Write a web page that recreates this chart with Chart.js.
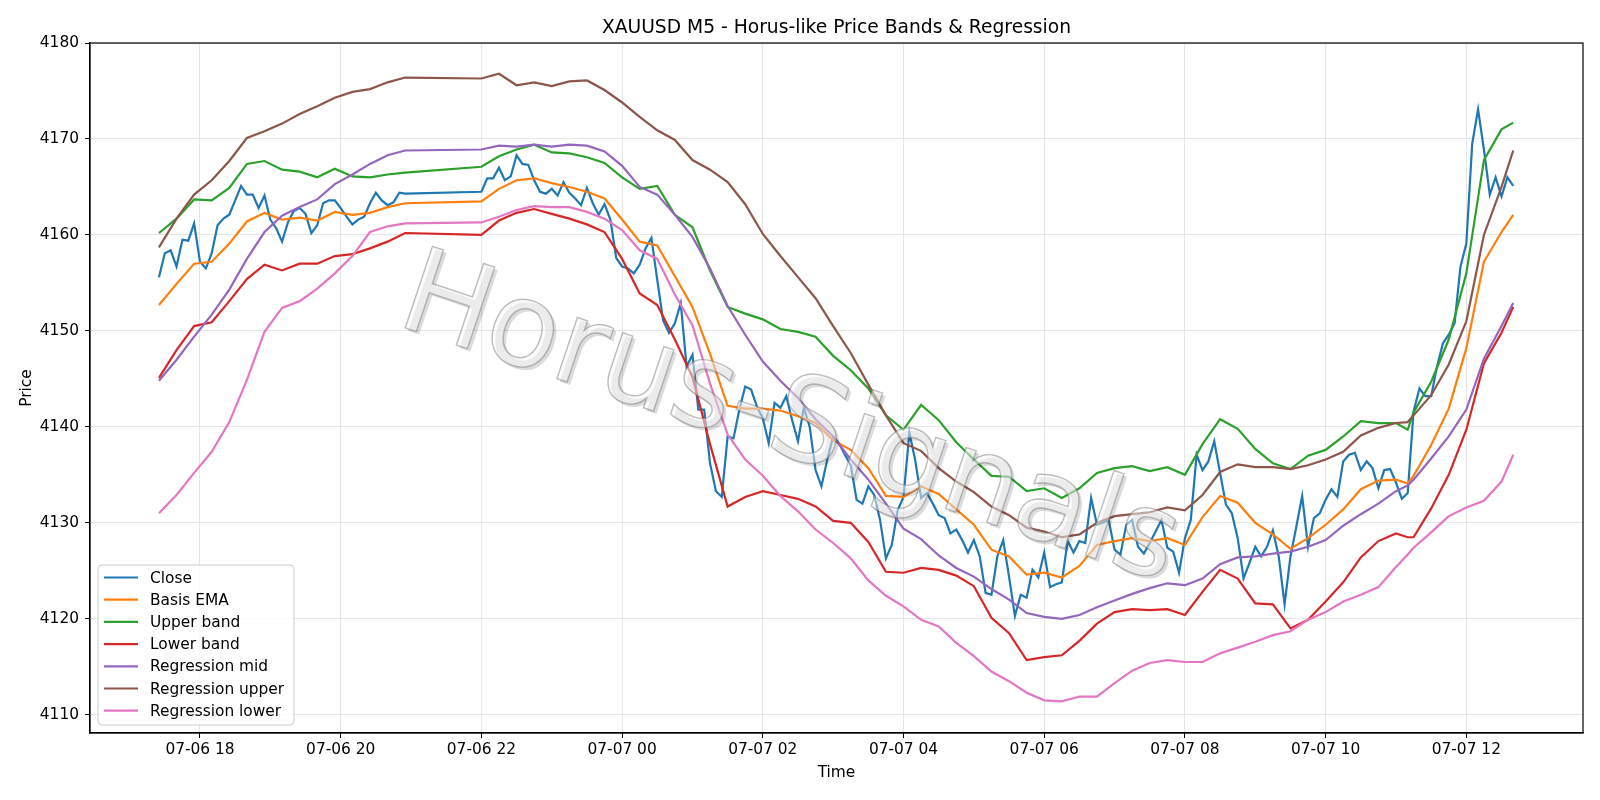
<!DOCTYPE html>
<html>
<head>
<meta charset="utf-8">
<title>XAUUSD M5</title>
<script src="https://cdn.jsdelivr.net/npm/chart.js@4.4.1/dist/chart.umd.min.js"></script>
<style>
html, body { margin: 0; padding: 0; background: #fff; }
#wrap { width: 1600px; height: 800px; position: relative; }
</style>
</head>
<body>
<div id="wrap"><canvas id="chart"></canvas></div>
<script>
const chartTitle = 'XAUUSD M5 - Horus-like Price Bands & Regression';
const watermark = 'Horus-Signals';
const xTitle = 'Time';
const yTitle = 'Price';

const tickLabels = ['07-06 18', '07-06 20', '07-06 22', '07-07 00', '07-07 02',
    '07-07 04', '07-07 06', '07-07 08', '07-07 10', '07-07 12'];
const yTicks = [4110, 4120, 4130, 4140, 4150, 4160, 4170, 4180];

// close, 5 minute bars, before the daily break
const closeStartA = '07-06 17:25';
const closeA = [
    4155.6, 4158.1, 4158.4, 4156.7, 4159.5, 4159.4, 4161.2, 4157.2, 4156.5, 4158.1, 4161.0, 4161.7,
    4162.1, 4163.6, 4165.1, 4164.2, 4164.2, 4162.8, 4164.1, 4161.6, 4160.7, 4159.3, 4161.3, 4162.5,
    4162.8, 4162.2, 4160.2, 4161.0, 4163.3, 4163.6, 4163.6, 4162.8, 4161.9, 4161.1, 4161.6, 4161.9,
    4163.3, 4164.4, 4163.6, 4163.1, 4163.4, 4164.4, 4164.3
];
// close, 5 minute bars, after the break
const closeStartB = '07-06 22:00';
const closeB = [
    4164.5, 4165.9, 4165.9, 4167.0, 4165.7, 4166.1, 4168.3, 4167.4, 4167.3, 4165.7, 4164.5, 4164.3,
    4164.8, 4164.1, 4165.5, 4164.4, 4163.8, 4163.1, 4164.9, 4163.3, 4162.1, 4163.2, 4161.6, 4157.6,
    4156.7, 4156.5, 4156.0, 4156.9, 4158.6, 4159.7, 4155.3, 4151.1, 4149.8, 4150.8, 4152.9, 4146.3,
    4147.5, 4141.8, 4141.8, 4136.2, 4133.3, 4132.7, 4139.0, 4138.8, 4141.8, 4144.2, 4143.9, 4142.1,
    4140.9, 4138.3, 4142.5, 4142.0, 4143.2, 4140.7, 4138.5, 4142.0, 4140.0, 4135.5, 4133.8, 4136.6,
    4139.0, 4138.3, 4137.1, 4136.0, 4132.4, 4132.0, 4133.8, 4132.9, 4130.3, 4126.3, 4127.7, 4131.3,
    4132.7, 4139.4, 4136.5, 4132.6, 4133.1, 4132.0, 4130.8, 4130.5, 4128.9, 4129.3, 4128.2, 4126.9,
    4128.2, 4126.5, 4122.7, 4122.5, 4126.5, 4128.2, 4124.4, 4120.3, 4122.5, 4122.2, 4125.1, 4124.3,
    4126.9, 4123.3, 4123.6, 4123.8, 4128.1, 4126.9, 4128.1, 4127.9, 4132.6, 4129.8, 4130.0, 4130.3,
    4127.2, 4126.7, 4129.8, 4130.3, 4127.5, 4126.8, 4127.9, 4129.1, 4130.3, 4127.4, 4127.0, 4124.8,
    4128.4, 4130.3, 4137.1, 4135.5, 4136.4, 4138.5, 4135.2, 4131.9, 4131.0, 4128.4, 4124.2, 4125.8,
    4127.5, 4126.5, 4127.5, 4129.2, 4126.5, 4121.5, 4126.5, 4129.6, 4132.8, 4127.5, 4130.5, 4131.0,
    4132.4, 4133.5, 4132.7, 4136.4, 4137.1, 4137.3, 4135.5, 4136.4, 4135.7, 4133.6, 4135.5, 4135.6,
    4134.2, 4132.5, 4133.1, 4141.6, 4144.0, 4143.2, 4143.2, 4146.3, 4148.7, 4149.6, 4150.8, 4156.7,
    4159.1, 4169.5, 4173.1, 4168.9, 4164.2, 4166.0, 4164.0, 4166.0, 4165.1
];

// times at which the smoother lines were read
const bandTimes = [
    '07-06 17:25', '07-06 17:40', '07-06 17:55', '07-06 18:10', '07-06 18:25', '07-06 18:40',
    '07-06 18:55', '07-06 19:10', '07-06 19:25', '07-06 19:40', '07-06 19:55', '07-06 20:10',
    '07-06 20:25', '07-06 20:40', '07-06 20:55',
    '07-06 22:00', '07-06 22:15', '07-06 22:30', '07-06 22:45', '07-06 23:00', '07-06 23:15',
    '07-06 23:30', '07-06 23:45',
    '07-07 00:00', '07-07 00:15', '07-07 00:30', '07-07 00:45', '07-07 01:00', '07-07 01:15',
    '07-07 01:30', '07-07 01:45', '07-07 02:00', '07-07 02:15', '07-07 02:30', '07-07 02:45',
    '07-07 03:00', '07-07 03:15', '07-07 03:30', '07-07 03:45', '07-07 04:00', '07-07 04:15',
    '07-07 04:30', '07-07 04:45', '07-07 05:00', '07-07 05:15', '07-07 05:30', '07-07 05:45',
    '07-07 06:00', '07-07 06:15', '07-07 06:30', '07-07 06:45', '07-07 07:00', '07-07 07:15',
    '07-07 07:30', '07-07 07:45', '07-07 08:00', '07-07 08:15', '07-07 08:30', '07-07 08:45',
    '07-07 09:00', '07-07 09:15', '07-07 09:30', '07-07 09:45', '07-07 10:00', '07-07 10:15',
    '07-07 10:30', '07-07 10:45', '07-07 11:00',
    '07-07 11:10', '07-07 11:15', '07-07 11:30', '07-07 11:45', '07-07 12:00', '07-07 12:15',
    '07-07 12:30', '07-07 12:40'
];

const basisEma = [
    4152.7, 4154.9, 4157.0, 4157.2, 4159.1, 4161.4, 4162.3, 4161.6, 4161.8, 4161.5, 4162.4, 4162.1,
    4162.3, 4162.9, 4163.3,
    4163.5, 4164.8, 4165.7, 4165.9, 4165.4, 4165.0, 4164.5, 4163.8,
    4161.6, 4159.3, 4158.9, 4155.7, 4152.5, 4147.6, 4142.2, 4141.9, 4141.9, 4141.7, 4141.1, 4140.4,
    4138.6, 4137.6, 4135.7, 4132.8, 4132.7, 4133.8, 4133.0, 4131.4, 4129.8, 4127.2, 4126.5, 4124.6,
    4124.8, 4124.3, 4125.5, 4127.7, 4128.1, 4128.4, 4128.1, 4128.4, 4127.7, 4130.6, 4132.8, 4132.1,
    4130.0, 4128.8, 4127.3, 4128.4, 4129.8, 4131.4, 4133.5, 4134.4, 4134.5,
    4134.1, 4134.9, 4138.1, 4141.9, 4148.2, 4157.2, 4160.3, 4162.1
];
const upperBand = [
    4160.2, 4161.7, 4163.7, 4163.6, 4164.9, 4167.4, 4167.7, 4166.8, 4166.6, 4166.0, 4166.9, 4166.1,
    4166.0, 4166.3, 4166.5,
    4167.1, 4168.2, 4168.9, 4169.4, 4168.6, 4168.5, 4168.1, 4167.5,
    4166.0, 4164.8, 4165.1, 4162.1, 4160.8, 4156.3, 4152.5, 4151.8, 4151.2, 4150.2, 4149.9, 4149.4,
    4147.4, 4145.9, 4144.0, 4141.2, 4139.7, 4142.3, 4140.7, 4138.4, 4136.6, 4134.9, 4134.8, 4133.3,
    4133.6, 4132.6, 4133.6, 4135.2, 4135.7, 4135.9, 4135.4, 4135.8, 4135.0, 4138.2, 4140.8, 4139.8,
    4137.7, 4136.2, 4135.6, 4137.0, 4137.6, 4139.0, 4140.6, 4140.4, 4140.4,
    4139.7, 4141.5, 4144.7, 4149.1, 4156.0, 4167.8, 4171.0, 4171.7
];
const lowerBand = [
    4145.1, 4148.0, 4150.5, 4150.9, 4153.1, 4155.4, 4156.9, 4156.3, 4157.0, 4157.0, 4157.8, 4158.0,
    4158.6, 4159.3, 4160.2,
    4160.0, 4161.5, 4162.3, 4162.7, 4162.2, 4161.7, 4161.1, 4160.3,
    4157.5, 4153.9, 4152.7, 4149.1, 4145.2, 4138.2, 4131.7, 4132.7, 4133.3, 4132.9, 4132.5, 4131.7,
    4130.2, 4130.0, 4128.0, 4124.9, 4124.8, 4125.3, 4125.1, 4124.5, 4123.4, 4120.1, 4118.5, 4115.7,
    4116.0, 4116.2, 4117.7, 4119.5, 4120.7, 4121.0, 4120.9, 4121.0, 4120.4, 4122.8, 4125.1, 4124.2,
    4121.6, 4121.5, 4119.0, 4119.9, 4121.8, 4123.8, 4126.4, 4128.1, 4128.9,
    4128.5, 4128.5, 4131.5, 4135.0, 4139.7, 4146.6, 4149.8, 4152.5
];
const regMid = [
    4144.8, 4147.0, 4149.4, 4151.7, 4154.3, 4157.5, 4160.3, 4162.0, 4162.9, 4163.7, 4165.3, 4166.3,
    4167.4, 4168.3, 4168.8,
    4168.9, 4169.3, 4169.2, 4169.4, 4169.2, 4169.4, 4169.3, 4168.7,
    4167.2, 4165.0, 4164.2, 4162.1, 4159.8, 4156.5, 4152.6, 4149.6, 4146.8, 4144.8, 4143.0, 4140.8,
    4139.0, 4136.6, 4134.5, 4132.0, 4129.4, 4128.3, 4126.6, 4125.3, 4124.4, 4123.1, 4122.0, 4120.6,
    4120.2, 4120.0, 4120.4, 4121.2, 4121.9, 4122.6, 4123.2, 4123.7, 4123.5, 4124.2, 4125.7, 4126.4,
    4126.5, 4126.8, 4127.0, 4127.5, 4128.2, 4129.7, 4130.9, 4132.0, 4133.3,
    4133.9, 4134.5, 4136.7, 4139.0, 4141.8, 4147.1, 4150.5, 4152.9
];
const regUpper = [
    4158.7, 4161.7, 4164.2, 4165.7, 4167.7, 4170.1, 4170.8, 4171.6, 4172.6, 4173.4, 4174.3, 4174.9,
    4175.2, 4175.9, 4176.4,
    4176.3, 4176.8, 4175.6, 4175.9, 4175.5, 4176.0, 4176.1, 4175.1,
    4173.8, 4172.3, 4170.9, 4169.9, 4167.8, 4166.8, 4165.5, 4163.2, 4160.1, 4157.8, 4155.6, 4153.4,
    4150.5, 4147.7, 4144.4, 4141.2, 4138.3, 4137.5, 4135.7, 4134.3, 4133.2, 4131.7, 4130.8, 4129.5,
    4129.1, 4128.5, 4128.8, 4130.0, 4130.7, 4130.9, 4131.1, 4131.6, 4131.3, 4132.9, 4135.3, 4136.1,
    4135.8, 4135.8, 4135.6, 4136.0, 4136.6, 4137.4, 4139.1, 4139.9, 4140.4,
    4140.5, 4141.2, 4143.3, 4146.5, 4151.0, 4160.0, 4165.0, 4168.8
];
const regLower = [
    4131.0, 4132.9, 4135.2, 4137.4, 4140.5, 4144.9, 4149.9, 4152.4, 4153.1, 4154.4, 4156.0, 4157.8,
    4160.3, 4160.9, 4161.2,
    4161.3, 4161.9, 4162.6, 4163.0, 4162.9, 4162.9, 4162.4, 4161.7,
    4160.5, 4158.4, 4157.5, 4153.8, 4150.6, 4144.5, 4139.2, 4136.6, 4134.9, 4132.8, 4131.2, 4129.3,
    4127.9, 4126.3, 4124.0, 4122.4, 4121.3, 4119.9, 4119.2, 4117.5, 4116.1, 4114.5, 4113.5, 4112.3,
    4111.5, 4111.4, 4111.9, 4111.9, 4113.3, 4114.6, 4115.4, 4115.7, 4115.5, 4115.5, 4116.4, 4117.0,
    4117.6, 4118.3, 4118.7, 4119.9, 4120.7, 4121.8, 4122.5, 4123.3, 4125.4,
    4126.7, 4127.4, 4129.0, 4130.7, 4131.6, 4132.3, 4134.3, 4137.1
];

// 'MM-DD HH' or 'MM-DD HH:MM' -> minutes from 07-06 00:00
function toMin(s) {
    const [d, t] = s.split(' ');
    const day = parseInt(d.split('-')[1]);
    const [h, m] = (t.includes(':') ? t : t + ':00').split(':').map(Number);
    return (day - 6) * 1440 + h * 60 + m;
}

function barSeries(start, values) {
    const t0 = toMin(start);
    return values.map((v, i) => ({ x: t0 + 5 * i, y: v }));
}

function bandSeries(values) {
    return values.map((v, i) => ({ x: toMin(bandTimes[i]), y: v }));
}

const closeData = barSeries(closeStartA, closeA).concat(barSeries(closeStartB, closeB));

const series = [
    { label: 'Close', color: '#1f77b4', data: closeData },
    { label: 'Basis EMA', color: '#ff7f0e', data: bandSeries(basisEma) },
    { label: 'Upper band', color: '#2ca02c', data: bandSeries(upperBand) },
    { label: 'Lower band', color: '#d62728', data: bandSeries(lowerBand) },
    { label: 'Regression mid', color: '#9467bd', data: bandSeries(regMid) },
    { label: 'Regression upper', color: '#8c564b', data: bandSeries(regUpper) },
    { label: 'Regression lower', color: '#e377c2', data: bandSeries(regLower) }
];

const FONT = '"DejaVu Sans", sans-serif';
const tickFont = { family: FONT, size: 15.4 };

function drawWatermark(ctx, a) {
    const cx = 789, cy = 424;
    const ang = 18.5 * Math.PI / 180;
    ctx.save();
    ctx.beginPath();
    ctx.rect(a.left, a.top, a.right - a.left, a.bottom - a.top);
    ctx.clip();
    ctx.font = '118px ' + FONT;
    ctx.textAlign = 'center';
    ctx.textBaseline = 'middle';

    // soft offset shadow
    ctx.save();
    ctx.translate(cx + 3, cy + 3);
    ctx.rotate(ang);
    ctx.fillStyle = 'rgba(0,0,0,0.14)';
    ctx.fillText(watermark, 0, 0);
    ctx.restore();

    // pale face with thin grey outline
    ctx.save();
    ctx.translate(cx, cy);
    ctx.rotate(ang);
    ctx.fillStyle = 'rgba(250,250,250,0.52)';
    ctx.fillText(watermark, 0, 0);
    ctx.lineWidth = 1.4;
    ctx.strokeStyle = 'rgba(110,110,110,0.45)';
    ctx.strokeText(watermark, 0, 0);
    ctx.restore();

    ctx.restore();
}

const decor = {
    id: 'decor',
    beforeDraw(chart) {
        const ctx = chart.ctx;
        ctx.save();
        ctx.fillStyle = '#fff';
        ctx.fillRect(0, 0, chart.width, chart.height);
        ctx.restore();
    },
    afterDatasetsDraw(chart) {
        const ctx = chart.ctx;
        const a = chart.chartArea;
        drawWatermark(ctx, a);

        // frame
        ctx.save();
        ctx.strokeStyle = '#000';
        ctx.lineWidth = 1.2;
        ctx.strokeRect(a.left, a.top, a.right - a.left, a.bottom - a.top);
        ctx.restore();
    },
    afterDraw(chart) {
        const ctx = chart.ctx;
        const a = chart.chartArea;
        const cx = (a.left + a.right) / 2;
        ctx.save();
        ctx.fillStyle = '#000';
        ctx.textAlign = 'center';
        ctx.textBaseline = 'alphabetic';
        ctx.font = '18.7px ' + FONT;
        ctx.fillText(chartTitle, cx, 33);
        ctx.font = '15.4px ' + FONT;
        ctx.fillText(xTitle, cx, 777);
        ctx.save();
        ctx.translate(31, (a.top + a.bottom) / 2);
        ctx.rotate(-Math.PI / 2);
        ctx.fillText(yTitle, 0, 0);
        ctx.restore();

        // legend
        const bx = 98, by = 565, bw = 196, bh = 160;
        ctx.beginPath();
        ctx.roundRect(bx, by, bw, bh, 4);
        ctx.fillStyle = 'rgba(255,255,255,0.8)';
        ctx.fill();
        ctx.strokeStyle = '#cccccc';
        ctx.lineWidth = 1;
        ctx.stroke();
        ctx.textAlign = 'left';
        ctx.textBaseline = 'middle';
        series.forEach((s, i) => {
            const y = 577.5 + i * 22.2;
            ctx.beginPath();
            ctx.moveTo(104, y);
            ctx.lineTo(138, y);
            ctx.strokeStyle = s.color;
            ctx.lineWidth = 2.2;
            ctx.stroke();
            ctx.fillStyle = '#000';
            ctx.fillText(s.label, 150, y + 1);
        });
        ctx.restore();
    }
};

new Chart(document.getElementById('chart'), {
    type: 'line',
    data: {
        datasets: series.map((s, i) => ({
            label: s.label,
            data: s.data,
            borderColor: s.color,
            backgroundColor: s.color,
            borderWidth: 2.2,
            pointRadius: 0,
            fill: false,
            tension: 0,
            order: series.length - i
        }))
    },
    options: {
        responsive: true,
        maintainAspectRatio: false,
        animation: false,
        events: [],
        layout: { padding: { top: 43, right: 17, left: 0, bottom: 0 } },
        plugins: {
            legend: { display: false },
            title: { display: false },
            tooltip: { enabled: false }
        },
        scales: {
            x: {
                type: 'linear',
                min: toMin('07-06 18:00') - 93.8,
                max: toMin('07-06 18:00') + 1179.5,
                afterBuildTicks: scale => {
                    scale.ticks = tickLabels.map(l => ({ value: toMin(l) }));
                },
                afterFit: scale => { scale.height = 67; },
                ticks: {
                    callback: (v, i) => tickLabels[i],
                    font: tickFont,
                    color: '#000',
                    padding: 3,
                    maxRotation: 0,
                    autoSkip: false
                },
                grid: { color: '#e6e6e6', tickColor: '#000', tickLength: 5, lineWidth: 1 },
                border: { color: '#000', width: 1.2 }
            },
            y: {
                min: 4108.1,
                max: 4180,
                afterBuildTicks: scale => {
                    scale.ticks = yTicks.map(v => ({ value: v }));
                },
                afterFit: scale => { scale.width = 90; },
                ticks: {
                    callback: v => String(v),
                    font: tickFont,
                    color: '#000',
                    padding: 6
                },
                grid: { color: '#e6e6e6', tickColor: '#000', tickLength: 5, lineWidth: 1 },
                border: { color: '#000', width: 1.2 }
            }
        }
    },
    plugins: [decor]
});
</script>
</body>
</html>
